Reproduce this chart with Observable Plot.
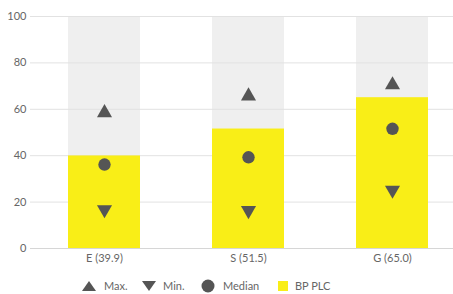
<!DOCTYPE html>
<html>
<head>
<meta charset="utf-8">
<script src="https://cdn.jsdelivr.net/npm/d3@7"></script>
<script src="https://cdn.jsdelivr.net/npm/@observablehq/plot@0.6"></script>
<style>
  body { margin: 0; background: #fff; font-family: "Lato", "DejaVu Sans", sans-serif; }
  #chart svg, #legend svg { display: block; }
</style>
</head>
<body>
<div id="chart"></div>
<div id="legend"></div>
<script>
const categories = ["E (39.9)", "S (51.5)", "G (65.0)"];
const company = [39.9, 51.5, 65.0];
const maxVals = [58.5, 65.7, 70.5];
const minVals = [16.8, 16.4, 25.2];
const medianVals = [36.2, 39.3, 51.6];
const yTicks = [0, 20, 40, 60, 80, 100];
const legendLabels = ["Max.", "Min.", "Median", "BP PLC"];

const rows = categories.map((c, i) => ({cat: c, company: company[i], max: maxVals[i], min: minVals[i], median: medianVals[i]}));

const markColor = "#555555";
const yellow = "#f9ee17";

const chart = Plot.plot({
  width: 453,
  height: 270,
  marginTop: 16,
  marginBottom: 22,
  marginLeft: 30,
  marginRight: 0,
  style: {fontFamily: "Lato, 'DejaVu Sans', sans-serif", fontSize: "11px", color: "#666"},
  x: {domain: categories, range: [32, 464], paddingInner: 0.5, paddingOuter: 0.25, label: null, tickSize: 0, tickPadding: 6},
  y: {domain: [0, 100], ticks: yTicks, label: null, tickSize: 0, tickPadding: 4},
  marks: [
    Plot.ruleY(yTicks, {stroke: "#dddddd", strokeWidth: 1, x1: 29, x2: 453}),
    Plot.barY(rows, {x: "cat", y1: 0, y2: 100, fill: "#efefef"}),
    Plot.ruleY(yTicks.filter(d => d > 0), {y: d => d, stroke: "#e2e2e2", strokeWidth: 1}),
    Plot.barY(rows, {x: "cat", y: "company", fill: yellow}),
    Plot.ruleY([0], {stroke: "#d6d6d6"}),
    Plot.dot(rows, {x: "cat", y: "max", symbol: "triangle", r: 5.6, fill: markColor}),
    Plot.dot(rows, {x: "cat", y: "min", symbol: "triangle", r: 5.6, fill: markColor, rotate: 180}),
    Plot.dot(rows, {x: "cat", y: "median", symbol: "circle", r: 6.2, fill: markColor})
  ]
});
document.getElementById("chart").appendChild(chart);

// Legend
const lx = [89, 149, 208, 283];
const tx = [104, 163, 223, 295];
const ly = 16;
const lg = d3.select("#legend").append("svg").attr("width", 453).attr("height", 24)
  .style("font-family", "Lato, 'DejaVu Sans', sans-serif").style("font-size", "11px");
legendLabels.forEach((label, i) => {
  const cx = lx[i];
  if (i === 0) lg.append("path").attr("d", `M${cx-7},${ly+5} L${cx},${ly-5} L${cx+7},${ly+5} Z`).attr("fill", markColor);
  else if (i === 1) lg.append("path").attr("d", `M${cx-7},${ly-5} L${cx+7},${ly-5} L${cx},${ly+5} Z`).attr("fill", markColor);
  else if (i === 2) lg.append("circle").attr("cx", cx).attr("cy", ly).attr("r", 6.5).attr("fill", markColor);
  else lg.append("rect").attr("x", cx - 5).attr("y", ly - 5).attr("width", 10).attr("height", 10).attr("fill", yellow);
  lg.append("text").attr("x", tx[i]).attr("y", ly).attr("dy", "0.35em").attr("fill", "#666").text(label);
});
</script>
</body>
</html>
